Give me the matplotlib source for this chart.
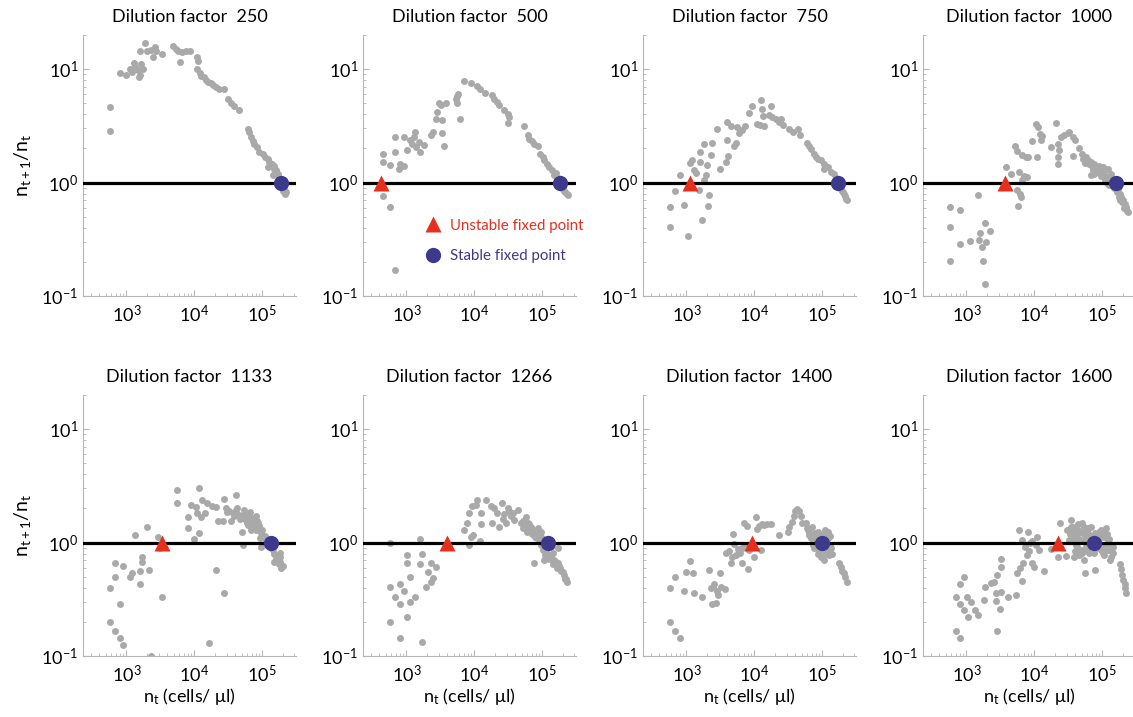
import numpy as np
import matplotlib
matplotlib.use('Agg')
import matplotlib.pyplot as plt

plt.rcParams['font.family'] = ['Lato', 'DejaVu Sans']
plt.rcParams['mathtext.fontset'] = 'custom'
plt.rcParams['mathtext.rm'] = 'Lato'
plt.rcParams['mathtext.it'] = 'Lato:italic'

dilution = [250, 500, 750, 1000, 1133, 1266, 1400, 1600]

# (n_t, n_t+1/n_t)
d250 = [(566, 4.65), (566, 2.84), (796, 9.3), (1000, 8.85), (1120, 10.1), (1213, 9.5), (1284, 11.4),
        (1359, 10.5), (1472, 9.8), (1577, 8.85), (1650, 11.1), (1766, 10.1), (1524, 8.44), (1612, 14.5),
        (1911, 17.1), (2024, 14.5), (2268, 14.7), (2600, 15.7), (2485, 12.7), (2692, 14.5), (3375, 13.7),
        (4911, 16.0), (5318, 15.2), (5756, 14.5), (6166, 11.6), (6679, 14.2), (7488, 14.5), (8677, 14.5),
        (11140, 12.7), (11400, 11.9), (11140, 9.93), (12200, 9.29), (12770, 8.67), (13990, 8.44),
        (14800, 8.0), (16030, 7.68), (17540, 7.48), (19220, 7.18), (20820, 7.02), (23330, 6.75),
        (27680, 6.75), (31000, 5.4), (34750, 5.05), (38930, 4.72), (46150, 4.35), (61330, 2.99),
        (64900, 2.8), (68700, 2.53), (72780, 2.33), (76950, 2.18), (83400, 2.04), (91300, 1.86),
        (102300, 1.78), (112000, 1.68), (121300, 1.6), (128500, 1.52), (136000, 1.42), (148900, 1.33),
        (161200, 1.24), (170600, 1.16), (180600, 1.08), (191100, 0.947), (207000, 0.885),
        (224200, 0.828), (121300, 1.37), (143900, 1.16), (160000, 1.3), (170000, 1.2), (175000, 1.1),
        (185000, 1.0), (195000, 0.9), (200000, 0.85), (215000, 0.8), (150000, 1.4), (140000, 1.45),
        (180000, 0.95)]

d500 = [(451, 1.78), (451, 1.52), (580, 1.42), (451, 0.762), (580, 0.61), (687, 0.171), (687, 2.53),
        (687, 1.86), (769, 1.33), (815, 1.45), (913, 1.39), (913, 2.53), (1023, 1.93), (1146, 2.36),
        (1213, 2.18), (1284, 2.5), (1359, 2.8), (1406, 2.04), (1524, 2.28), (1612, 1.86), (1806, 2.13),
        (2268, 2.62), (2485, 2.8), (2692, 3.67), (2844, 4.2), (3012, 5.05), (3190, 4.81), (3377, 3.55),
        (3574, 2.09), (3377, 2.71), (3785, 5.05), (5318, 5.4), (5505, 5.78), (5757, 6.0), (6166, 3.6),
        (5633, 5.05), (7063, 7.89), (8872, 7.57), (11140, 7.08), (12190, 6.75), (14310, 6.18),
        (18580, 5.9), (19670, 5.4), (21540, 5.15), (23330, 4.81), (27670, 4.35), (30990, 4.01),
        (32820, 3.75), (30990, 3.36), (53460, 3.14), (61320, 2.62), (64920, 2.44), (70310, 2.33),
        (76960, 2.18), (86270, 2.09), (94450, 1.8), (102300, 1.68), (108300, 1.57), (118600, 1.47),
        (128600, 1.37), (139100, 1.28), (161000, 1.22), (202300, 0.885), (219300, 0.828),
        (240000, 0.773), (152300, 1.16), (170000, 1.1), (185000, 0.95), (195000, 0.9), (210000, 0.85),
        (230000, 0.8)]

d750 = [(566, 0.61), (566, 0.406), (687, 0.844), (796, 1.16), (913, 0.64), (1047, 0.336), (1120, 1.49),
        (1213, 1.57), (1314, 1.3), (1406, 1.22), (1524, 0.856), (1612, 1.86), (1612, 1.52), (1708, 0.465),
        (1806, 2.21), (1806, 1.05), (1977, 1.16), (2024, 1.42), (2070, 0.618), (2143, 0.773), (2268, 1.74),
        (2400, 2.24), (2844, 2.94), (3119, 1.33), (3785, 1.52), (4001, 3.43), (4093, 1.71), (4001, 2.39),
        (4587, 3.14), (5020, 2.09), (5318, 2.24), (5508, 3.06), (5957, 2.74), (6680, 2.9), (7230, 3.14),
        (8380, 4.12), (9390, 4.72), (10890, 3.27), (12190, 3.21), (12770, 5.32), (13210, 4.41),
        (13680, 3.85), (13990, 3.14), (17540, 4.72), (16590, 3.93), (18580, 3.75), (20820, 3.6),
        (23340, 3.43), (24710, 3.6), (26140, 3.21), (32810, 2.94), (36730, 2.8), (43650, 2.94),
        (47760, 2.62), (59930, 2.24), (64920, 2.09), (68700, 1.96), (75340, 1.8), (81500, 1.68),
        (88300, 1.6), (96600, 1.57), (108300, 1.47), (121300, 1.37), (136000, 1.24), (148900, 1.19),
        (187000, 0.885), (202400, 0.828), (219300, 0.757), (234400, 0.698), (108300, 1.33),
        (160000, 1.1), (175000, 0.95), (195000, 0.85), (210000, 0.8), (225000, 0.72)]

d1000 = [(580, 0.61), (580, 0.406), (580, 0.204), (815, 0.578), (815, 0.29), (1146, 0.305), (1472, 0.773),
         (1524, 0.314), (1612, 0.362), (1708, 0.27), (1766, 0.204), (1849, 0.441), (1911, 0.127),
         (1977, 0.299), (2218, 0.375), (3785, 1.37), (4487, 1.19), (5140, 2.09), (5636, 1.9), (5957, 1.24),
         (5508, 0.856), (6236, 0.8), (6457, 0.747), (5757, 0.618), (6680, 1.74), (7490, 1.68), (7930, 1.11),
         (7063, 1.14), (6680, 1.06), (8110, 1.68), (9390, 2.33), (10520, 3.31), (11400, 3.1),
         (12190, 2.67), (13210, 2.56), (12770, 2.39), (11140, 1.68), (17540, 2.04), (20820, 3.36),
         (22030, 2.18), (23340, 1.93), (22540, 1.68), (22030, 1.47), (24710, 2.53), (27670, 2.62),
         (30990, 2.71), (32820, 2.8), (36730, 2.53), (39810, 2.39), (36730, 1.71), (46150, 2.0),
         (50000, 1.8), (57940, 1.68), (61330, 1.57), (68700, 1.52), (75340, 1.45), (81500, 1.37),
         (72780, 1.28), (86270, 1.33), (96600, 1.28), (108300, 1.2), (121300, 1.33), (114600, 1.12),
         (128500, 1.08), (136000, 1.2), (68700, 1.16), (180700, 0.8), (191000, 0.747), (202300, 0.698),
         (214200, 0.653), (226900, 0.61), (234400, 0.562), (170600, 0.885), (102300, 1.37),
         (52000, 1.6), (56000, 1.5), (64000, 1.45), (70000, 1.4), (78000, 1.3), (84000, 1.25),
         (90000, 1.4), (100000, 1.25), (105000, 1.15), (112000, 1.05), (118000, 1.0), (125000, 0.95),
         (140000, 0.95), (150000, 0.9), (165000, 0.82), (175000, 0.75), (185000, 0.7), (195000, 0.68),
         (210000, 0.6), (225000, 0.58), (240000, 0.55), (75000, 1.2), (95000, 1.15)]

d1133 = [(566, 0.395), (566, 0.201), (672, 0.667), (672, 0.501), (672, 0.167), (796, 0.286), (796, 0.143),
         (893, 0.125), (893, 0.622), (1120, 0.501), (1213, 0.543), (1359, 1.17), (1577, 0.432),
         (1577, 0.566), (1708, 0.68), (1708, 0.743), (2024, 1.38), (2143, 0.574), (2268, 0.1),
         (2911, 1.13), (3119, 0.891), (3378, 0.33), (5508, 2.88), (5508, 2.22), (8110, 1.67),
         (8110, 1.34), (8872, 2.15), (9950, 1.07), (10520, 2.05), (10890, 1.84), (11800, 3.01),
         (11800, 1.21), (12480, 1.67), (13210, 2.38), (14310, 1.84), (15670, 2.22), (16590, 0.129),
         (18580, 2.11), (20820, 2.05), (20820, 0.574), (22030, 1.56), (26140, 1.56), (27040, 2.41),
         (27670, 0.362), (29290, 2.01), (32820, 1.88), (34750, 1.56), (36730, 1.82), (41210, 2.64),
         (41210, 1.92), (46150, 1.75), (50000, 1.23), (51760, 1.64), (51760, 0.954), (54710, 1.94),
         (57940, 1.59), (61330, 1.43), (64920, 1.7), (68700, 1.29), (72780, 1.53), (76960, 1.38),
         (81500, 1.72), (86270, 1.48), (91300, 1.29), (96600, 1.21), (96600, 0.922), (105900, 1.13),
         (114600, 1.06), (143900, 0.861), (148900, 0.68), (170600, 0.752), (180700, 0.68),
         (191000, 0.594), (180700, 0.805), (68700, 1.59), (30000, 1.85), (38000, 1.7), (43000, 2.0),
         (47000, 1.6), (55000, 1.75), (60000, 1.5), (66000, 1.85), (70000, 1.45), (75000, 1.65),
         (80000, 1.3), (85000, 1.55), (90000, 1.4), (94000, 1.1), (100000, 1.3), (110000, 1.15),
         (118000, 1.0), (125000, 0.95), (150000, 0.8), (160000, 0.72), (175000, 0.65), (185000, 0.75),
         (200000, 0.62), (135000, 0.9)]

d1266 = [(566, 1.0), (566, 0.404), (566, 0.201), (687, 0.334), (796, 0.432), (796, 0.288), (796, 0.143),
         (913, 0.377), (1023, 0.778), (1023, 0.667), (1023, 0.222), (1146, 0.494), (1146, 0.302),
         (1359, 0.334), (1577, 1.07), (1577, 0.649), (1708, 0.794), (1708, 0.134), (1913, 0.409),
         (2070, 0.555), (2268, 0.667), (2318, 0.453), (2485, 0.485), (2692, 0.614), (7063, 1.29),
         (7740, 1.5), (8380, 0.954), (8380, 1.82), (8872, 1.13), (9390, 2.08), (9720, 1.17),
         (10520, 2.15), (11140, 2.38), (12190, 1.04), (12480, 1.82), (12770, 1.46), (14800, 2.38),
         (17540, 2.11), (18580, 1.5), (19670, 2.01), (21540, 1.84), (23330, 1.38), (25230, 2.22),
         (26140, 1.61), (27670, 1.79), (29290, 1.5), (30990, 2.01), (32820, 1.88), (34750, 1.7),
         (36730, 1.84), (38900, 1.59), (43650, 1.94), (48870, 1.48), (51760, 1.34), (57940, 1.67),
         (61330, 1.48), (64920, 1.31), (68700, 1.38), (72780, 1.21), (75340, 0.657), (78700, 1.13),
         (86270, 1.34), (91300, 1.07), (96600, 1.25), (102300, 0.861), (108300, 0.703), (110700, 0.922),
         (128500, 0.778), (143900, 0.805), (152300, 0.703), (170600, 0.657), (180700, 0.594),
         (191000, 0.566), (209400, 0.519), (219300, 0.475), (234400, 0.453), (170600, 0.891),
         (136000, 0.922), (52000, 1.55), (56000, 1.4), (60000, 1.25), (65000, 1.45), (70000, 1.2),
         (74000, 1.3), (80000, 1.2), (84000, 1.1), (88000, 1.25), (92000, 1.15), (100000, 1.1),
         (104000, 0.95), (115000, 0.85), (120000, 0.9), (125000, 0.72), (135000, 0.75), (145000, 0.65),
         (160000, 0.68), (165000, 0.6), (175000, 0.62), (200000, 0.55), (225000, 0.48), (112000, 0.78),
         (95000, 0.96)]

d1400 = [(580, 0.395), (580, 0.201), (687, 0.494), (687, 0.167), (796, 0.143), (913, 0.377), (1000, 0.555),
         (1146, 0.694), (1256, 0.543), (1284, 0.362), (1708, 0.33), (2143, 0.574), (2268, 0.395),
         (2400, 0.286), (2485, 0.404), (2541, 0.432), (2692, 0.291), (2780, 0.377), (2911, 0.345),
         (3119, 0.543), (3266, 0.404), (3656, 0.387), (3785, 0.816), (4240, 0.85), (4590, 0.667),
         (4753, 0.743), (4911, 1.19), (5025, 0.973), (5318, 0.778), (5757, 0.873), (6166, 0.816),
         (6680, 0.667), (6680, 0.891), (7063, 1.48), (7230, 0.935), (7740, 1.4), (8110, 0.582),
         (8380, 0.861), (9950, 0.752), (10520, 1.67), (11140, 1.31), (11800, 1.4), (12480, 0.861),
         (13210, 1.46), (13990, 1.43), (15670, 1.46), (17940, 1.46), (23330, 1.17), (30990, 1.25),
         (32820, 1.38), (35560, 1.53), (38020, 1.7), (39810, 1.88), (42660, 1.97), (46150, 1.88),
         (48870, 1.72), (50000, 1.48), (57940, 1.48), (61330, 1.28), (64920, 1.17), (68700, 1.09),
         (72780, 0.954), (76960, 0.891), (81500, 1.07), (86270, 1.25), (91300, 0.833), (102300, 0.752),
         (108300, 1.17), (114600, 0.922), (121300, 1.25), (128500, 0.778), (136000, 0.891),
         (174600, 0.657), (187000, 0.614), (195400, 0.566), (209400, 0.536), (219300, 0.494),
         (234400, 0.453), (96600, 1.13), (102300, 0.935), (60000, 1.35), (65000, 1.25), (70000, 1.38),
         (72000, 1.13), (78000, 1.21), (80000, 0.95), (85000, 1.1), (88000, 0.8), (92000, 1.2),
         (95000, 1.05), (98000, 0.75), (104000, 1.05), (110000, 0.85), (112000, 1.3), (118000, 1.0),
         (124000, 1.1), (125000, 0.85), (130000, 0.95), (133000, 1.15), (140000, 0.8), (105000, 0.7)]

d1600 = [(711, 0.334), (711, 0.167), (815, 0.143), (815, 0.432), (815, 0.288), (934, 0.501), (934, 0.255),
         (1023, 0.33), (1047, 0.222), (1172, 0.302), (1359, 0.255), (1472, 0.23), (1806, 0.312),
         (1911, 0.409), (2268, 0.437), (2541, 0.453), (2692, 0.357), (2692, 0.308), (2780, 0.167),
         (2844, 0.519), (3119, 0.258), (3190, 0.369), (3266, 0.606), (3266, 0.713), (4093, 0.334),
         (5318, 0.345), (5636, 0.543), (5957, 1.28), (6166, 0.594), (6680, 0.462), (6918, 0.657),
         (6680, 1.06), (7230, 0.922), (7930, 0.778), (8110, 1.25), (8380, 0.85), (8670, 0.987),
         (9390, 0.667), (9390, 1.04), (9950, 0.614), (10520, 0.954), (11140, 1.11), (11800, 0.861),
         (13990, 0.566), (17540, 0.873), (24160, 1.48), (22540, 0.752), (29290, 0.763), (34700, 1.59),
         (36730, 1.38), (38900, 0.752), (39810, 1.13), (42660, 0.922), (43650, 1.29), (46150, 1.06),
         (48870, 0.861), (50000, 1.48), (53460, 0.703), (54700, 1.19), (55970, 0.543), (57940, 0.922),
         (61330, 1.34), (64920, 0.805), (68700, 1.13), (78700, 0.574), (86270, 0.891), (91300, 1.25),
         (96600, 1.13), (102300, 0.805), (108300, 0.954), (114600, 1.34), (121300, 0.861),
         (128500, 1.07), (136000, 0.752), (143900, 0.922), (180700, 0.649), (187000, 0.582),
         (195400, 0.519), (202300, 0.468), (214200, 0.432), (226900, 0.357), (214200, 0.395),
         (41210, 0.954), (33880, 1.19), (61330, 0.954), (34700, 1.38), (36730, 1.21), (38900, 1.06),
         (43650, 1.45), (46150, 1.21), (48870, 1.06), (50000, 0.805), (54700, 1.38), (57940, 1.06),
         (61330, 1.21), (64920, 0.922), (68700, 1.38), (72780, 1.06), (75340, 0.805), (78700, 1.21),
         (81500, 0.922), (86270, 1.13), (91300, 1.0), (96600, 0.861), (102300, 1.21), (108300, 1.13),
         (114600, 0.922), (121300, 1.06), (128500, 0.861), (136000, 0.95), (143900, 0.805),
         (30000, 1.3), (32000, 1.06), (40000, 0.85), (45000, 0.78), (52000, 1.25), (60000, 0.86),
         (66000, 1.13), (95000, 1.3), (105000, 0.78), (132000, 0.7), (117000, 1.2)]

panels = [d250, d500, d750, d1000, d1133, d1266, d1400, d1600]
unstable = [None, 422, 1146, 3656, 3378, 3917, 9400, 22540]
stable = [187000, 180700, 170600, 161000, 136000, 121300, 98900, 75340]

gray = '#a9a9a9'
red = '#e5301f'
blue = '#3d3a8e'

W, H = 1133, 717
fig = plt.figure(figsize=(W / 100, H / 100), dpi=100)

for i, data in enumerate(panels):
    row, col = divmod(i, 4)
    left = 83 + 280 * col
    top = 35 + 360 * row
    ax = fig.add_axes([left / W, 1 - (top + 261) / H, 213 / W, 261 / H])

    xs, ys = zip(*data)
    ax.plot(xs, ys, 'o', color=gray, ms=5, mec='none', zorder=2)
    ax.axhline(1, color='black', lw=2.3, zorder=3)
    if unstable[i] is not None:
        ax.plot(unstable[i], 1, '^', color=red, ms=12, mec='none', zorder=4,
                label='Unstable fixed point')
    ax.plot(stable[i], 1, 'o', color=blue, ms=11, mec='none', zorder=4,
            label='Stable fixed point')

    ax.set_xscale('log')
    ax.set_yscale('log')
    ax.set_xlim(10 ** 2.36, 10 ** 5.5)
    ax.set_ylim(0.1, 20)
    ax.set_xticks([1e3, 1e4, 1e5])
    ax.set_yticks([0.1, 1, 10])

    for s in ['top', 'right']:
        ax.spines[s].set_visible(False)
    for s in ['left', 'bottom']:
        ax.spines[s].set_color('#b5b5b5')
        ax.spines[s].set_linewidth(0.8)
    ax.tick_params(which='both', direction='in', color='#b5b5b5', labelsize=13)
    ax.tick_params(which='major', length=4)
    ax.tick_params(which='minor', length=2)
    ax.tick_params(axis='x', pad=6)

    ax.set_title('Dilution factor  %d' % dilution[i], fontsize=13, pad=9)
    if col == 0:
        ax.set_ylabel(r'$\mathregular{n_{t+1}/n_t}$', fontsize=14, labelpad=6)
    if row == 1:
        ax.set_xlabel(r'$\mathregular{n_t}$ (cells/ μl)', fontsize=13, labelpad=0)

    if i == 1:
        leg = ax.legend(loc='upper left', bbox_to_anchor=(0.235, 0.325), frameon=False,
                        fontsize=10.8, handletextpad=0.25, labelspacing=1.1, borderpad=0,
                        handlelength=1.7)
        for txt, c in zip(leg.get_texts(), [red, blue]):
            txt.set_color(c)

fig.savefig('out.png', dpi=100)
